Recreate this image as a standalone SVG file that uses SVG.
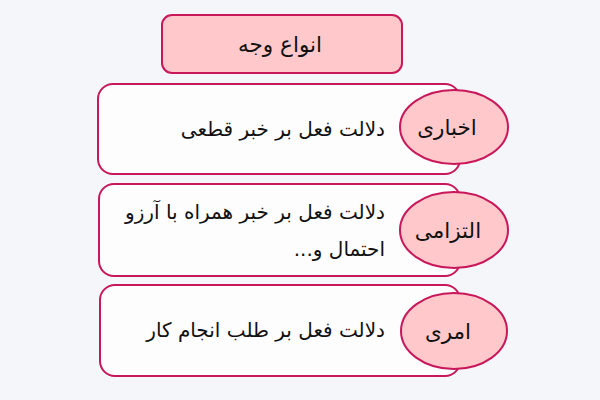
<svg xmlns="http://www.w3.org/2000/svg" width="600" height="400" viewBox="0 0 600 400">
<style>
.box{fill:#fdfdfe;stroke:#c8175a;stroke-width:2}
.hd{fill:#ffc9cb;stroke:#c8175a;stroke-width:2}
text{font-family:"DejaVu Sans","Noto Sans",sans-serif;font-size:20px;fill:#111;direction:rtl}
.c{text-anchor:middle;font-size:21.5px}
.r{text-anchor:start}
</style>
<rect width="600" height="400" fill="#f5f6f9"/>
<g id="title">
<rect class="hd" x="162" y="15" width="240" height="58" rx="10"/>
<text class="c" x="280" y="52" direction="rtl">انواع وجه</text>
</g>
<g id="akhbari">
<rect class="box" x="98" y="84" width="362" height="90" rx="15"/>
<text class="r" x="385" y="136" direction="rtl">دلالت فعل بر خبر قطعی</text>
<ellipse class="hd" cx="454" cy="127" rx="54" ry="37"/>
<text class="c" x="447" y="135" direction="rtl">اخباری</text>
</g>
<g id="eltezami">
<rect class="box" x="99" y="184" width="361" height="92" rx="15"/>
<text class="r" x="385" y="219" direction="rtl">دلالت فعل بر خبر همراه با آرزو</text>
<text class="r" x="385" y="256" direction="rtl">احتمال و...</text>
<ellipse class="hd" cx="454" cy="230" rx="54" ry="38"/>
<text class="c" x="448" y="238" direction="rtl">التزامی</text>
</g>
<g id="amri">
<rect class="box" x="100" y="285" width="360" height="91" rx="15"/>
<text class="r" x="385" y="337" direction="rtl">دلالت فعل بر طلب انجام کار</text>
<ellipse class="hd" cx="454" cy="331" rx="53" ry="38"/>
<text class="c" x="448" y="339" direction="rtl">امری</text>
</g>
<g id="connectors"/>
</svg>
